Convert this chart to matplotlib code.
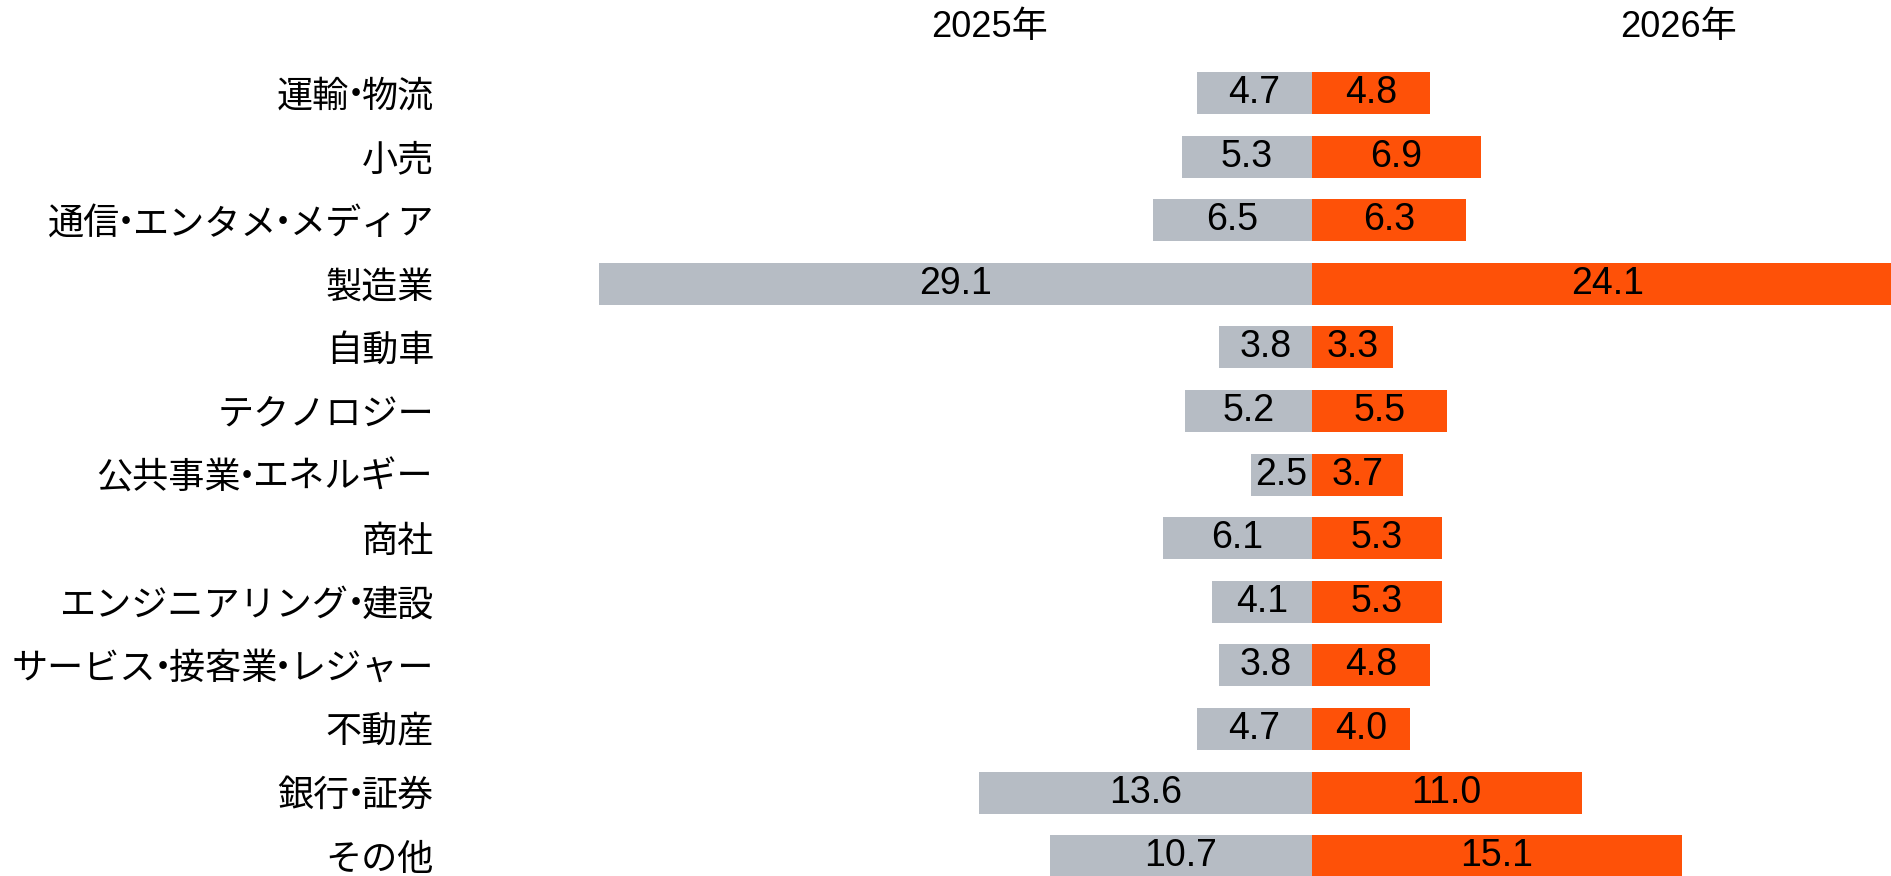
import matplotlib
matplotlib.use("Agg")
import matplotlib.pyplot as plt

plt.rcParams['font.family'] = ['Liberation Sans', 'Noto Sans CJK JP']

industries = [
    "運輸・物流", "小売", "通信・エンタメ・メディア", "製造業", "自動車",
    "テクノロジー", "公共事業・エネルギー", "商社", "エンジニアリング・建設",
    "サービス・接客業・レジャー", "不動産", "銀行・証券", "その他",
]
share_2025 = [4.7, 5.3, 6.5, 29.1, 3.8, 5.2, 2.5, 6.1, 4.1, 3.8, 4.7, 13.6, 10.7]
share_2026 = [4.8, 6.9, 6.3, 24.1, 3.3, 5.5, 3.7, 5.3, 5.3, 4.8, 4.0, 11.0, 15.1]
year_labels = ["2025年", "2026年"]

GREY = "#B6BCC4"
ORANGE = "#FE5108"

W, H = 1891, 876
fig = plt.figure(figsize=(W / 100, H / 100), dpi=100)

# axes spans full height; zero line sits at x=1312px, 24.5px per unit
left_px = 450
zero_px = 1312
px_per_unit = 24.5
row_px = 63.6
first_row_px = 93

ax = fig.add_axes([left_px / W, 0, 1 - left_px / W, 1])
ax.set_xlim(-(zero_px - left_px) / px_per_unit, (W - zero_px) / px_per_unit)
ax.set_ylim((H - first_row_px) / row_px, -first_row_px / row_px)
ax.axis("off")

rows = list(range(len(industries)))
ax.barh(rows, [-v for v in share_2025], height=0.66, color=GREY)
ax.barh(rows, share_2026, height=0.66, color=ORANGE)

for y, a, b in zip(rows, share_2025, share_2026):
    ax.text(-a / 2, y, f"{a:.1f}", ha="center", va="center", fontsize=27)
    ax.text(b / 2, y, f"{b:.1f}", ha="center", va="center", fontsize=27)

# category labels: laid out right to left so the ・ gets a narrow slot
renderer = fig.canvas.get_renderer()
trans = ax.get_yaxis_transform()
label_pad = 11.5   # pt
dot_slot = 9.0     # pt
for y, name in zip(rows, industries):
    parts = name.split("・")
    offset = label_pad
    for i, part in enumerate(reversed(parts)):
        if i > 0:
            ax.annotate("・", xy=(0, y), xycoords=trans,
                        xytext=(-(offset + dot_slot / 2), 0), textcoords="offset points",
                        ha="center", va="center_baseline", fontsize=26)
            offset += dot_slot
        t = ax.annotate(part, xy=(0, y), xycoords=trans,
                        xytext=(-offset, 0), textcoords="offset points",
                        ha="right", va="center_baseline", fontsize=26)
        offset += t.get_window_extent(renderer).width * 72 / fig.dpi

# column headers
fig.text(989 / W, 1 - 27 / H, year_labels[0], ha="center", va="center", fontsize=26)
fig.text(1679 / W, 1 - 27 / H, year_labels[1], ha="center", va="center", fontsize=26)

fig.savefig("out.png", dpi=100)
